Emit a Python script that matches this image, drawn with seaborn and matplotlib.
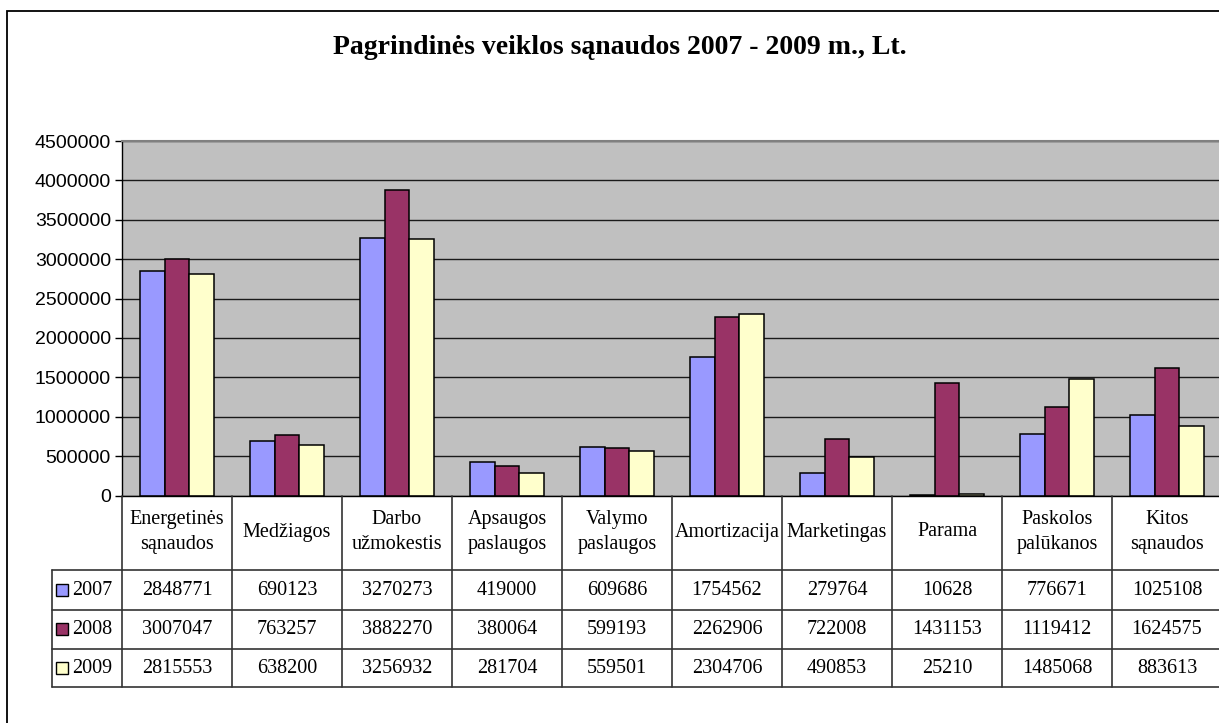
import matplotlib
matplotlib.use("Agg")
import matplotlib.pyplot as plt
from matplotlib.patches import Rectangle
import pandas as pd
import seaborn as sns

# ---- data ----
categories = ["Energetinės\nsąnaudos", "Medžiagos", "Darbo\nužmokestis", "Apsaugos\npaslaugos",
              "Valymo\npaslaugos", "Amortizacija", "Marketingas", "Parama",
              "Paskolos\npalūkanos", "Kitos\nsąnaudos"]
years = ["2007", "2008", "2009"]
v2007 = [2848771, 690123, 3270273, 419000, 609686, 1754562, 279764, 10628, 776671, 1025108]
v2008 = [3007047, 763257, 3882270, 380064, 599193, 2262906, 722008, 1431153, 1119412, 1624575]
v2009 = [2815553, 638200, 3256932, 281704, 559501, 2304706, 490853, 25210, 1485068, 883613]
colors = ["#9999FF", "#993366", "#FFFFCC"]

series = {"2007": v2007, "2008": v2008, "2009": v2009}
rows = []
for y in years:
    for c, v in zip(categories, series[y]):
        rows.append({"category": c, "year": y, "value": v})
df = pd.DataFrame(rows)

sns.set_style("white")
plt.rcParams["font.family"] = ["Liberation Serif", "DejaVu Serif"]
plt.rcParams["text.color"] = "black"
plt.rcParams["ytick.color"] = "black"
plt.rcParams["ytick.labelcolor"] = "black"

W, H = 1219, 723
fig = plt.figure(figsize=(W / 100, H / 100), dpi=100)

# pixel layout helpers
x_left, x_right = 122, 1222
y_top, y_zero, y_bottom = 141, 495.5, 687


def fy(py):
    return 1 - py / H


ax = fig.add_axes([x_left / W, fy(y_zero), (x_right - x_left) / W, (y_zero - y_top) / H])
ax.set_facecolor("#C0C0C0")
sns.barplot(data=df, x="category", y="value", hue="year", order=categories, hue_order=years,
            palette=colors, width=0.67, edgecolor="black", linewidth=1.1, saturation=1,
            ax=ax, legend=False)
ax.set_xlim(-0.5, len(categories) - 0.5)
ax.set_ylim(0, 4500000)
ax.set_yticks(range(0, 4500001, 500000))
ax.set_yticklabels([str(t) for t in range(0, 4500001, 500000)],
                   fontfamily="Liberation Sans", fontsize=14, color="black")
ax.set_xticks([])
ax.set_xlabel("")
ax.set_ylabel("")
ax.yaxis.grid(True, color="#1a1a1a", linewidth=1.0)
ax.set_axisbelow(True)
ax.tick_params(axis="y", length=5, width=1, color="black", direction="out", pad=3, left=True)
for s in ["top", "right"]:
    ax.spines[s].set_color("#808080")
    ax.spines[s].set_linewidth(1.5)
ax.spines["left"].set_color("black")
ax.spines["bottom"].set_color("black")
ax.spines["left"].set_linewidth(1)
ax.spines["bottom"].set_linewidth(1)

# ---- data table ----
tax = fig.add_axes([x_left / W, fy(y_bottom), (x_right - x_left) / W, (y_bottom - y_zero) / H])
tax.set_xlim(-0.5, len(categories) - 0.5)
tax.set_ylim(y_bottom, y_zero)
tax.axis("off")


def px2x(px):
    return (px - x_left) / 110 - 0.5


line_kw = dict(color="#333333", linewidth=1.2, clip_on=False)
row_edges = [570, 609.5, 648.5, y_bottom]
x_leg = px2x(52)
for i in range(len(categories) + 1):
    tax.plot([i - 0.5, i - 0.5], [y_zero, y_bottom], **line_kw)
tax.plot([x_leg, x_leg], [row_edges[0], y_bottom], **line_kw)
for ry in row_edges:
    tax.plot([x_leg, len(categories) - 0.5], [ry, ry], **line_kw)

for i, c in enumerate(categories):
    tax.text(i, 532, c, ha="center", va="center", fontsize=14.5, linespacing=1.45)

for r, y in enumerate(years):
    yc = (row_edges[r] + row_edges[r + 1]) / 2
    for i, v in enumerate(series[y]):
        tax.text(i, yc + 1, str(v), ha="center", va="center", fontsize=14.5)
    kx0, kx1 = px2x(56), px2x(68)
    tax.add_patch(Rectangle((kx0, yc - 6), kx1 - kx0, 12, facecolor=colors[r],
                            edgecolor="black", linewidth=1, clip_on=False))
    tax.text(px2x(72), yc + 1, y, ha="left", va="center", fontsize=14.5)

# ---- title and outer frame ----
fig.text(620 / W, fy(48), "Pagrindinės veiklos sąnaudos 2007 - 2009 m., Lt.",
         ha="center", va="center", fontsize=20, fontweight="bold")
fig.patches.append(Rectangle((7 / W, -0.1), 1.2, fy(11) + 0.1, transform=fig.transFigure,
                             facecolor="none", edgecolor="black", linewidth=1.3))

fig.savefig("out.png", dpi=100)
